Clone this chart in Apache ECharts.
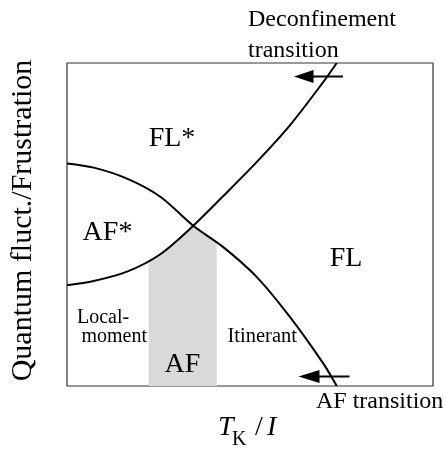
<!DOCTYPE html>
<html>
<head>
<meta charset="utf-8">
<script src="https://cdn.jsdelivr.net/npm/echarts@6/dist/echarts.min.js"></script>
<style>
  html, body { margin: 0; padding: 0; background: #fff; }
  #main { width: 446px; height: 449px; }
</style>
</head>
<body>
<div id="main"></div>
<script>
// phase boundaries, x = T_K/I, y = quantum fluct. (both 0..100)
const afBoundaryX = [0, 7.3, 16.4, 25.5, 34.5, 42.7, 51.8, 60.9, 70.0, 73.7];
const afBoundaryY = [68.9, 67.6, 64.2, 58.6, 49.6, 43.0, 33.8, 21.4, 7.0, 0];
const deconfX = [0, 7.3, 16.4, 25.5, 34.5, 42.7, 51.8, 60.9, 70.0, 73.7];
const deconfY = [31.2, 32.5, 35.4, 40.8, 49.6, 58.8, 69.3, 80.7, 94.1, 100];
// shaded AF region (below both lines)
const afRegionX = [22.3, 25.5, 30.0, 34.5, 36.4, 40.9];
const afRegionY = [38.8, 40.8, 44.6, 49.6, 48.1, 44.4];

const serif = '"Liberation Serif", "DejaVu Serif", serif';

function pairs(xs, ys) {
    return xs.map((x, i) => [x, ys[i]]);
}

// 文字标注
function label(text, x, y, size, align, extra) {
    return {
        type: 'text',
        x: x,
        y: y,
        z: 10,
        style: Object.assign({
            text: text,
            font: size + 'px ' + serif,
            fill: '#000',
            align: align || 'left',
            verticalAlign: 'middle',
        }, extra || {}),
    };
}

// 箭头
function arrow(tipX, y, headLen, halfH, endX) {
    return [
        {
            type: 'polygon',
            z: 10,
            shape: { points: [[tipX, y], [tipX + headLen, y - halfH], [tipX + headLen, y + halfH]] },
            style: { fill: '#000' },
        },
        {
            type: 'line',
            z: 10,
            shape: { x1: tipX + headLen - 1, y1: y, x2: endX, y2: y },
            style: { stroke: '#000', lineWidth: 2 },
        },
    ];
}

var chart = echarts.init(document.getElementById('main'));
chart.setOption({
    animation: false,
    grid: {
        left: 67,
        top: 63,
        right: 13,
        bottom: 63,
        show: true,
        borderColor: '#333',
        borderWidth: 1.2,
    },
    xAxis: { type: 'value', min: 0, max: 100, show: false },
    yAxis: { type: 'value', min: 0, max: 100, show: false },
    series: [
        {
            name: 'AF',
            type: 'line',
            data: pairs(afRegionX, afRegionY),
            symbol: 'none',
            lineStyle: { width: 0 },
            areaStyle: { color: '#d9d9d9', opacity: 1 },
            z: 1,
        },
        {
            name: 'AF transition',
            type: 'line',
            data: pairs(afBoundaryX, afBoundaryY),
            symbol: 'none',
            smooth: 0.3,
            lineStyle: { color: '#000', width: 2 },
            z: 3,
        },
        {
            name: 'Deconfinement transition',
            type: 'line',
            data: pairs(deconfX, deconfY),
            symbol: 'none',
            smooth: 0.3,
            clip: false,
            lineStyle: { color: '#000', width: 2 },
            z: 3,
        },
    ],
    graphic: [
        label('FL*', 172, 139, 28, 'center'),
        label('AF*', 107.5, 233, 28, 'center'),
        label('FL', 346, 259, 28, 'center'),
        label('AF', 182.5, 365, 28, 'center'),
        label('Local-', 77, 317.5, 20),
        label('moment', 81.5, 336.5, 20),
        label('Itinerant', 227.5, 336.5, 20.5),
        label('Deconfinement', 248, 20, 24),
        label('transition', 248, 51, 24),
        label('AF transition', 316, 402, 24),
        // x axis title
        label('T', 218, 428, 28, 'left', { font: 'italic 28px ' + serif }),
        label('K', 232, 440, 20),
        label('/', 255, 428, 28),
        label('I', 267, 428, 28, 'left', { font: 'italic 28px ' + serif }),
        // y axis title
        Object.assign(label('Quantum fluct./Frustration', 23.5, 220.5, 30, 'center'), { rotation: Math.PI / 2 }),
    ].concat(arrow(294, 76.5, 19.5, 6.5, 343), arrow(298.5, 376.5, 21, 6.5, 349.5)),
});
</script>
</body>
</html>
